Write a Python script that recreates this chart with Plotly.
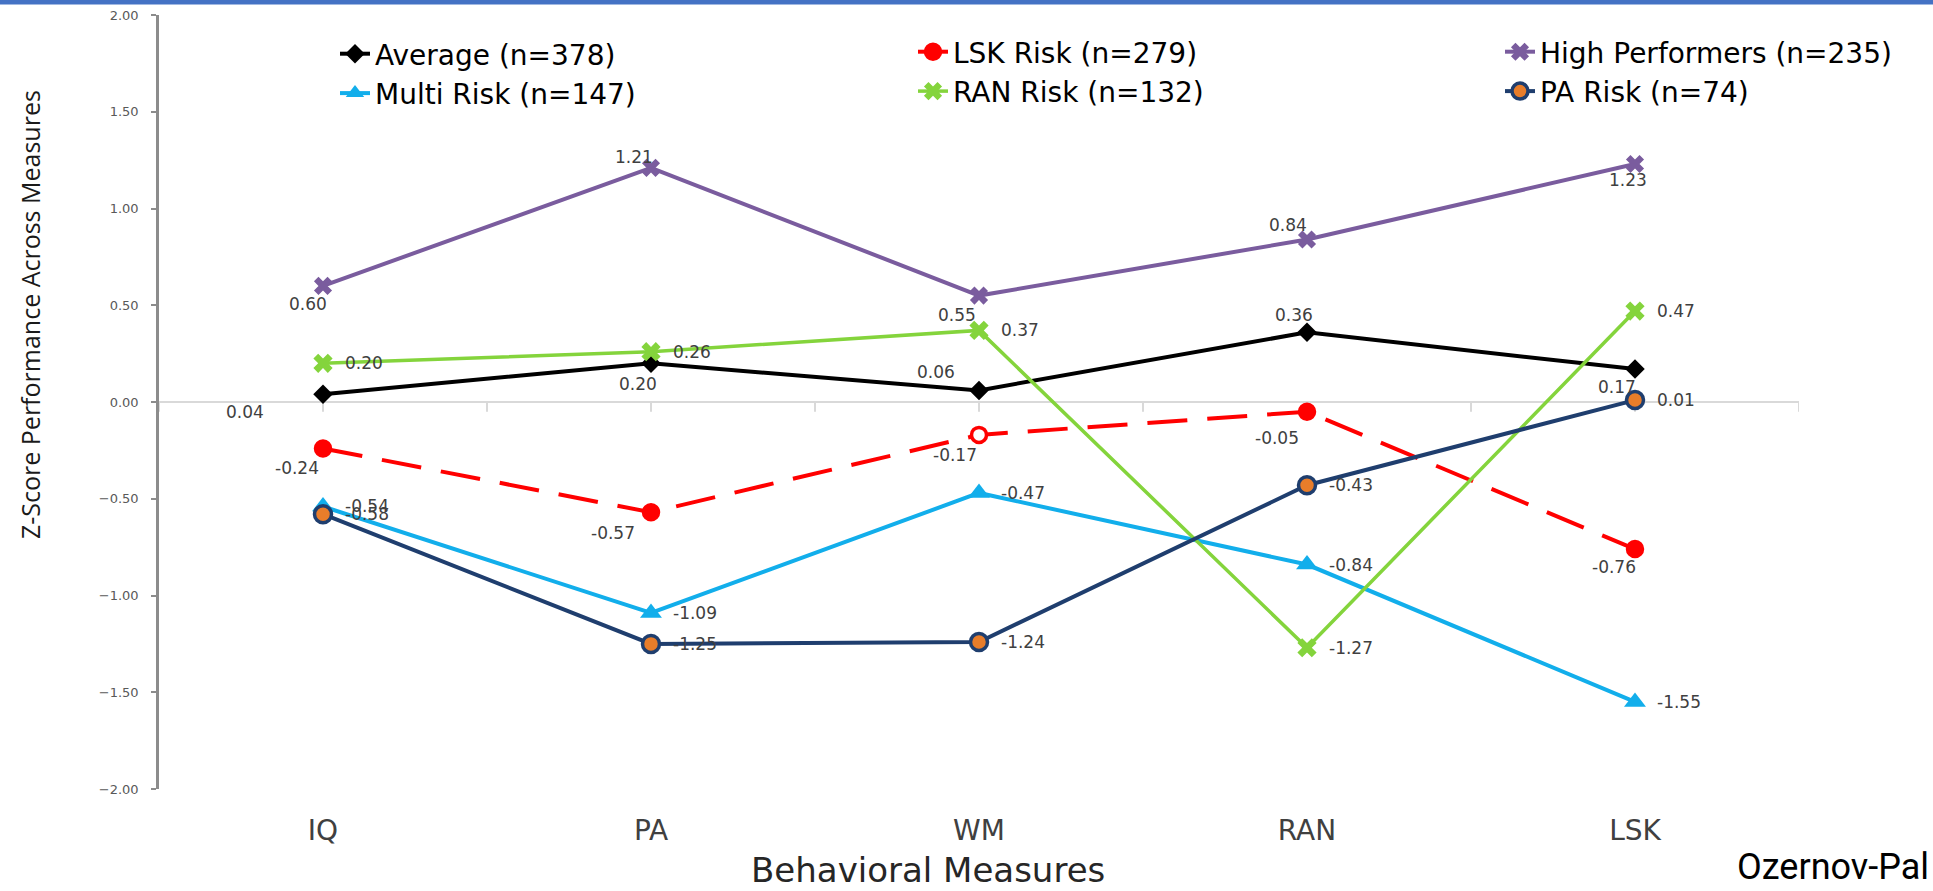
import plotly.graph_objects as go

# ---------------- data ----------------
categories = ["IQ", "PA", "WM", "RAN", "LSK"]

average = [0.04, 0.20, 0.06, 0.36, 0.17]
lsk_risk = [-0.24, -0.57, -0.17, -0.05, -0.76]
high_performers = [0.60, 1.21, 0.55, 0.84, 1.23]
multi_risk = [-0.54, -1.09, -0.47, -0.84, -1.55]
ran_risk = [0.20, 0.26, 0.37, -1.27, 0.47]
pa_risk = [-0.58, -1.25, -1.24, -0.43, 0.01]

series_names = ["Average (n=378)", "LSK Risk (n=279)", "High Performers (n=235)",
                "Multi Risk (n=147)", "RAN Risk (n=132)", "PA Risk (n=74)"]

y_tick_values = [2.0, 1.5, 1.0, 0.5, 0.0, -0.5, -1.0, -1.5, -2.0]

y_title = "Z-Score Performance Across Measures"
x_title = "Behavioral Measures"
credit = "Ozernov-Pal"

# ---------------- layout geometry (pixels) ----------------
W, H = 1933, 891
ML, MR, MT, MB = 159, 134, 15, 102
PW, PH = W - ML - MR, H - MT - MB


def px_x(p):
    return (p - ML) / PW


def px_y(p):
    return 1 - (p - MT) / PH


LABEL_FONT = dict(family="DejaVu Sans", size=17, color="#404040")

# label placement per series: (dx, dy, anchor) in pixels relative to the point
R = (20, 0, "left")
styles = [
    dict(data=average, name=series_names[0], color="#000000", symbol="diamond", size=15,
         width=4, dash="solid", legend="legend",
         labels=[(-78, 18, "center"), (-13, 21, "center"), (-43, -18, "center"),
                 (-13, -17, "center"), (-18, 18, "center")]),
    dict(data=lsk_risk, name=series_names[1], color="#FF0000", symbol="circle", size=15,
         width=4, dash="40px,20px", legend="legend2",
         fill=["#FF0000", "#FF0000", "#FFFFFF", "#FF0000", "#FF0000"],
         labels=[(-26, 20, "center"), (-38, 21, "center"), (-24, 20, "center"),
                 (-30, 26, "center"), (-21, 18, "center")]),
    dict(data=high_performers, name=series_names[2], color="#7A5C9E", symbol="x", size=16,
         width=4, dash="solid", legend="legend3",
         labels=[(-15, 18, "center"), (-17, -11, "center"), (-22, 19, "center"),
                 (-19, -14, "center"), (-7, 16, "center")]),
    dict(data=multi_risk, name=series_names[3], color="#12AEEB", symbol="triangle-up", size=19,
         width=4, dash="solid", legend="legend", labels=[R] * 5),
    dict(data=ran_risk, name=series_names[4], color="#84D43C", symbol="x", size=17,
         width=3.5, dash="solid", legend="legend2", labels=[R] * 5),
    dict(data=pa_risk, name=series_names[5], color="#1F3E6E", symbol="circle", size=17,
         width=4, dash="solid", legend="legend3", fill="#E87D2A", labels=[R] * 5),
]

fig = go.Figure()
annotations = []
for s in styles:
    mfill = s.get("fill", s["color"])
    fig.add_trace(go.Scatter(
        x=categories, y=s["data"], name=s["name"], mode="lines+markers",
        legend=s["legend"],
        line=dict(color=s["color"], width=s["width"], dash=s["dash"]),
        marker=dict(symbol=s["symbol"], size=s["size"], color=mfill,
                    line=dict(color=s["color"], width=3.5 if "fill" in s else 0)),
    ))
    for cat, v, (dx, dy, anch) in zip(categories, s["data"], s["labels"]):
        annotations.append(dict(
            x=cat, y=v, xref="x", yref="y", text=f"{v:.2f}", showarrow=False,
            xanchor=anch, yanchor="middle", xshift=dx, yshift=-dy, font=LABEL_FONT))

# axis titles / credit as text
annotations.append(dict(x=px_x(30), y=px_y(315), xref="paper", yref="paper", text=y_title,
                        textangle=-90, showarrow=False, xanchor="center", yanchor="middle",
                        font=dict(family="Open Sans", size=25, color="#1a1a1a")))
annotations.append(dict(x=px_x(928), y=px_y(870), xref="paper", yref="paper", text=x_title,
                        showarrow=False, xanchor="center", yanchor="middle",
                        font=dict(family="DejaVu Sans", size=34, color="#262626")))
annotations.append(dict(x=px_x(1931), y=px_y(867), xref="paper", yref="paper", text=credit,
                        showarrow=False, xanchor="right", yanchor="middle",
                        font=dict(family="Roboto, sans-serif", size=36, color="#000000")))

# small tick marks along the zero line (category centres and boundaries)
shapes = []
n = len(categories)
k = 0
while k <= 2 * n:
    xv = -0.5 + k * 0.5
    shapes.append(dict(type="line", xref="x", yref="y", x0=xv, x1=xv, y0=0, y1=-0.05,
                       line=dict(color="#D9D9D9", width=2), layer="below"))
    k += 1

# blue band at the very top of the slide
shapes.append(dict(type="rect", xref="paper", yref="paper", x0=px_x(0), x1=px_x(W),
                   y0=px_y(4.5), y1=px_y(0), fillcolor="#4472C4", line=dict(width=0),
                   layer="above"))

LEG_FONT = dict(family="DejaVu Sans", size=28, color="#000000")
leg_common = dict(xanchor="left", yanchor="top", bgcolor="rgba(0,0,0,0)",
                  font=LEG_FONT, traceorder="normal", borderwidth=0)

fig.update_layout(
    width=W, height=H,
    margin=dict(l=ML, r=MR, t=MT, b=MB),
    paper_bgcolor="white", plot_bgcolor="white",
    showlegend=True,
    legend=dict(x=px_x(335), y=px_y(29), **leg_common),
    legend2=dict(x=px_x(913), y=px_y(27), **leg_common),
    legend3=dict(x=px_x(1500), y=px_y(27), **leg_common),
    xaxis=dict(type="category", range=[-0.5, n - 0.5], showgrid=False, showline=False,
               zeroline=False, ticks="", ticklabelstandoff=22, automargin=False,
               tickfont=dict(family="DejaVu Sans", size=28, color="#404040")),
    yaxis=dict(range=[-2, 2], tickvals=y_tick_values, tickformat=".2f", showgrid=False,
               showline=True, linecolor="#8C8C8C", linewidth=2.5,
               ticks="outside", ticklen=5, tickcolor="#8C8C8C", tickwidth=1.5,
               ticklabelstandoff=10, automargin=False,
               zeroline=True, zerolinecolor="#D9D9D9", zerolinewidth=2,
               tickfont=dict(family="DejaVu Sans", size=13, color="#595959")),
    annotations=annotations,
    shapes=shapes,
)

fig.write_html("out.html", config={"displayModeBar": False},
               post_script="document.body.style.margin='0';document.body.style.overflow='hidden';")
